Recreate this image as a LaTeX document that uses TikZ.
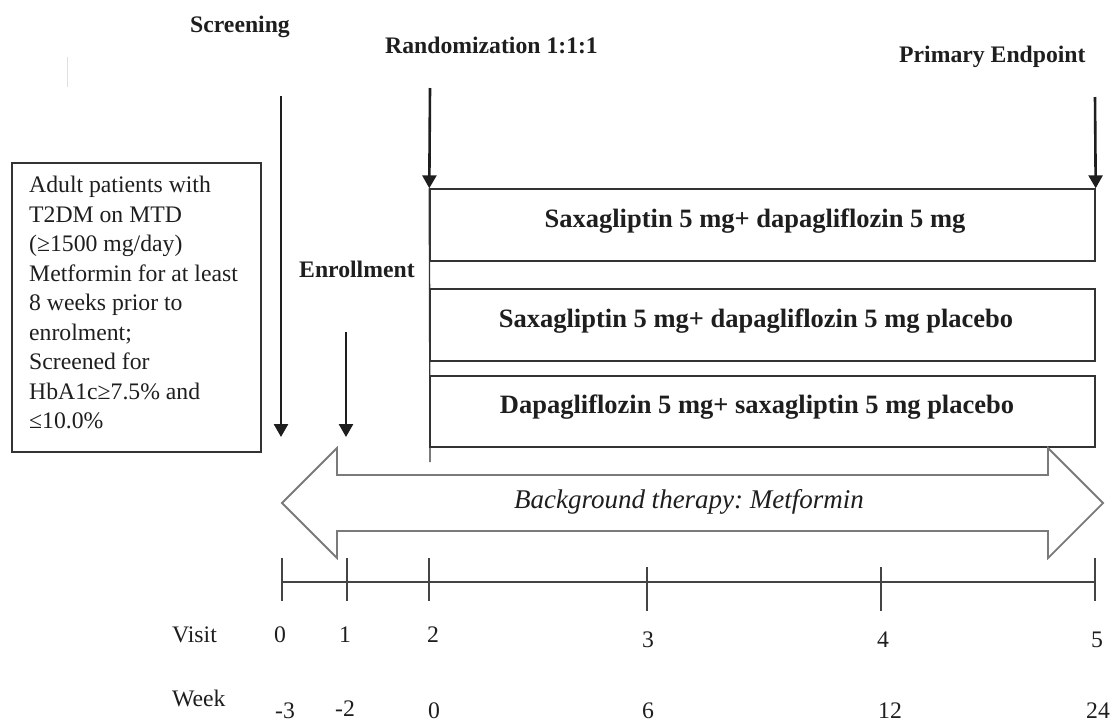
\documentclass[tikz,border=0pt]{standalone}
\usepackage{fontspec}
\setmainfont{Liberation Serif}
\usetikzlibrary{arrows.meta}
\definecolor{ink}{HTML}{1E1E1E}
\definecolor{boxc}{HTML}{333333}
\definecolor{axc}{HTML}{444444}
\definecolor{arrc}{HTML}{7A7A7A}
\frenchspacing
\begin{document}
\begin{tikzpicture}[x=1pt,y=-1pt,
  lab/.style={font=\fontsize{23.7}{28}\selectfont\bfseries, text=ink, inner sep=0pt, anchor=base},
  num/.style={font=\fontsize{23.7}{28}\selectfont, text=ink, inner sep=0pt, anchor=base},
  armbox/.style={draw=boxc, line width=1.4pt, minimum width=665pt, minimum height=72pt, inner sep=0pt},
  armtxt/.style={font=\fontsize{26.5}{30}\selectfont\bfseries, text=ink, inner sep=0pt, anchor=base},
  bigarrow/.style={-{Triangle[width=14pt,length=13pt]}, line width=2.6pt, draw=ink},
  boxline/.style={draw=boxc, line width=1.4pt},
  axis/.style={draw=axc, line width=1.8pt},
  tickmark/.style={draw=axc, line width=1.5pt},
]
\useasboundingbox (0,0) rectangle (1116,721);

% faint mark
\draw[draw=black!12, line width=1pt] (67,57) -- (67,87);

% top labels
\node[lab] (scr) at (240,32) {Screening};
\node[lab, anchor=base west] (rnd) at (385,53) {Randomization 1:1:1};
\node[lab, anchor=base west] (pep) at (899,62) {Primary Endpoint};
\node[lab, anchor=base west] (enr) at (299,277) {Enrollment};

% patient box
\node[draw=boxc, line width=1.4pt, minimum width=249pt, minimum height=289pt, inner sep=0pt] (pat) at (136.5,307.5) {};
\node[font=\fontsize{23.7}{29.5}\selectfont, text=ink, align=left, anchor=north west, inner sep=0pt] (pattxt) at (29,176)
  {Adult patients with\\T2DM on MTD\\(≥1500 mg/day)\\Metformin for at least\\8 weeks prior to\\enrolment;\\Screened for\\HbA1c≥7.5\% and\\≤10.0\%};

% arm boxes
\node[armbox] (arm1) at (762.5,225) {};
\node[armbox] (arm2) at (762.5,325) {};
\node[armbox, minimum height=71pt] (arm3) at (762.5,411.5) {};
\node[armtxt] (t1) at (755,227) {Saxagliptin 5 mg+ dapagliflozin 5 mg};
\node[armtxt] (t2) at (756,327) {Saxagliptin 5 mg+ dapagliflozin 5 mg placebo};
\node[armtxt] (t3) at (757,413) {Dapagliflozin 5 mg+ saxagliptin 5 mg placebo};
\coordinate (armL) at (430,462);
\draw[boxline] (arm1.north west) -- (armL);

% arrows
\coordinate (scrA) at (281,96);
\coordinate (scrB) at (281,437);
\coordinate (enrA) at (346,332);
\coordinate (enrB) at (346,437);
\coordinate (rndA) at (430,88);
\coordinate (pepA) at (1095,97);
\draw[bigarrow] (scrA) -- (scrB);
\draw[bigarrow] (enrA) -- (enrB);
\draw[bigarrow] (rndA) -- (arm1.north west);
\draw[bigarrow] (pepA) -- (arm1.north east);

% background therapy double arrow
\draw[draw=arrc, line width=1.8pt, line join=miter, fill=white]
  (282,503) -- (337,448) -- (337,475) -- (1048,475) -- (1048,448) -- (1103,503)
  -- (1048,558) -- (1048,531) -- (337,531) -- (337,558) -- cycle;
\node[font=\fontsize{27}{30}\selectfont\itshape, text=ink, inner sep=0pt, anchor=base] (bgt) at (689,508) {Background therapy: Metformin};

% timeline
\coordinate (v0) at (282,582);
\coordinate (v1) at (347,582);
\coordinate (v2) at (429,582);
\coordinate (v3) at (647,582);
\coordinate (v4) at (881,582);
\coordinate (v5) at (1095,582);
\draw[axis] (v0) -- (v5);
\foreach \p in {v0,v1,v2,v5} \draw[tickmark] (\p) ++(0,-24) -- ++(0,43);
\foreach \p in {v3,v4} \draw[tickmark] (\p) ++(0,-15) -- ++(0,44);

% visit labels
\node[num, anchor=base west] (visit) at (172,642) {Visit};
\node[num] (n0) at (280,642) {0};
\node[num] (n1) at (345,642) {1};
\node[num] (n2) at (433,642) {2};
\node[num] (n3) at (648,647) {3};
\node[num] (n4) at (883,647) {4};
\node[num] (n5) at (1097,647) {5};

% week labels
\node[num, anchor=base west] (week) at (172,706) {Week};
\node[num] (w0) at (285,718) {-3};
\node[num] (w1) at (345,716) {-2};
\node[num] (w2) at (434,718) {0};
\node[num] (w3) at (648,718) {6};
\node[num] (w4) at (890,718) {12};
\node[num] (w5) at (1098,718) {24};
\end{tikzpicture}
\end{document}
